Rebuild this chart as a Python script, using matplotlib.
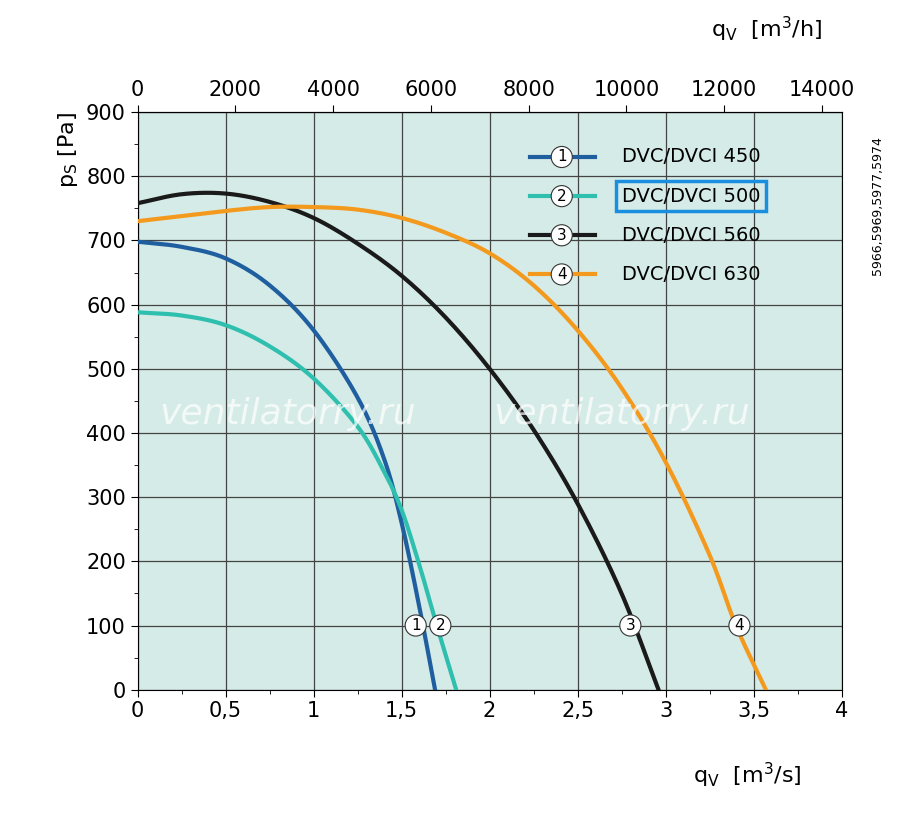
import matplotlib.pyplot as plt
import numpy as np

names = ["DVC/DVCI 450", "DVC/DVCI 500", "DVC/DVCI 560", "DVC/DVCI 630"]
colors = ["#1f5fa0", "#2fbfae", "#1a1a1a", "#f39a1e"]
q1 = [0, 0.25, 0.5, 0.75, 1.0, 1.25, 1.4, 1.5, 1.6, 1.69]
p1 = [698, 690, 672, 630, 560, 455, 360, 260, 130, 0]
q2 = [0, 0.25, 0.5, 0.75, 1.0, 1.25, 1.4, 1.5, 1.6, 1.7, 1.81]
p2 = [588, 583, 568, 535, 485, 410, 340, 280, 195, 100, 0]
q3 = [0, 0.25, 0.5, 0.75, 1.0, 1.25, 1.5, 1.75, 2.0, 2.25, 2.5, 2.75, 2.96]
p3 = [758, 772, 773, 760, 735, 695, 645, 580, 500, 405, 290, 150, 0]
q4 = [0, 0.25, 0.5, 0.75, 1.0, 1.25, 1.5, 1.75, 2.0, 2.25, 2.5, 2.75, 3.0, 3.25, 3.4, 3.57]
p4 = [730, 738, 746, 752, 752, 748, 735, 712, 680, 630, 560, 470, 355, 210, 100, 0]
curves = [(q1, p1), (q2, p2), (q3, p3), (q4, p4)]
label_q = [1.58, 1.72, 2.8, 3.42]


def smooth(x, y, n=20):
    # Catmull-Rom through the read points
    P = np.column_stack([x, y]).astype(float)
    P = np.vstack([2 * P[0] - P[1], P, 2 * P[-1] - P[-2]])
    out = []
    t = np.linspace(0, 1, n, endpoint=False)[:, None]
    for i in range(1, len(P) - 2):
        p0, p1_, p2_, p3_ = P[i - 1], P[i], P[i + 1], P[i + 2]
        out.append(0.5 * ((2 * p1_) + (-p0 + p2_) * t + (2 * p0 - 5 * p1_ + 4 * p2_ - p3_) * t ** 2
                          + (-p0 + 3 * p1_ - 3 * p2_ + p3_) * t ** 3))
    out.append(P[-2][None, :])
    s = np.vstack(out)
    return s[:, 0], s[:, 1]


fig = plt.figure(figsize=(9, 8.24), dpi=100)
ax = fig.add_axes([0.153, 0.163, 0.782, 0.701])
ax.set_facecolor("#d5ebe7")
ax.set_xlim(0, 4)
ax.set_ylim(0, 900)
ax.set_xticks(np.arange(0, 4.01, 0.5))
ax.set_xticklabels(["0", "0,5", "1", "1,5", "2", "2,5", "3", "3,5", "4"])
ax.set_yticks(range(0, 901, 100))
ax.set_xticks(np.arange(0, 4.01, 0.25), minor=True)
ax.set_yticks(range(0, 901, 50), minor=True)
ax.grid(True, which="major", color="#444444", lw=0.9)
ax.tick_params(labelsize=15, direction="out", length=5)
ax.tick_params(which="minor", direction="out", length=3)

for i, (q, p) in enumerate(curves):
    xs, ys = smooth(q, p)
    ax.plot(xs, ys, color=colors[i], lw=3, zorder=3)
    ax.text(label_q[i], 100, str(i + 1), ha="center", va="center", fontsize=11, zorder=5,
            bbox=dict(boxstyle="circle,pad=0.2", fc="white", ec="#333333", lw=0.8))

for i, name in enumerate(names):
    y = 830 - i * 61
    ax.plot([2.23, 2.6], [y, y], color=colors[i], lw=3, zorder=3)
    ax.text(2.41, y, str(i + 1), ha="center", va="center", fontsize=11, zorder=5,
            bbox=dict(boxstyle="circle,pad=0.2", fc="white", ec="#333333", lw=0.8))
    t = ax.text(2.75, y, name, va="center", fontsize=14, zorder=5)
    if i == 1:
        t.set_bbox(dict(boxstyle="square,pad=0.3", fc="none", ec="#1a8fe0", lw=2.5))

for x in [0.85, 2.75]:
    ax.text(x, 430, "ventilatorry.ru", fontsize=26, style="italic", color="white",
            alpha=0.7, ha="center", va="center", zorder=4)

top = ax.secondary_xaxis("top", functions=(lambda v: v * 3600, lambda v: v / 3600))
top.set_xticks(range(0, 14001, 2000))
top.tick_params(labelsize=15, direction="out", length=5)

ax.set_ylabel(r"p$_\mathregular{S}$ [Pa]", fontsize=16, loc="top")
fig.text(0.77, 0.05, r"q$_\mathregular{V}$  [m$^3$/s]", fontsize=16)
fig.text(0.79, 0.955, r"q$_\mathregular{V}$  [m$^3$/h]", fontsize=16)
fig.text(0.975, 0.75, "5966,5969,5977,5974", rotation=90, fontsize=9, ha="center", va="center")

fig.savefig("out.png", dpi=100)
